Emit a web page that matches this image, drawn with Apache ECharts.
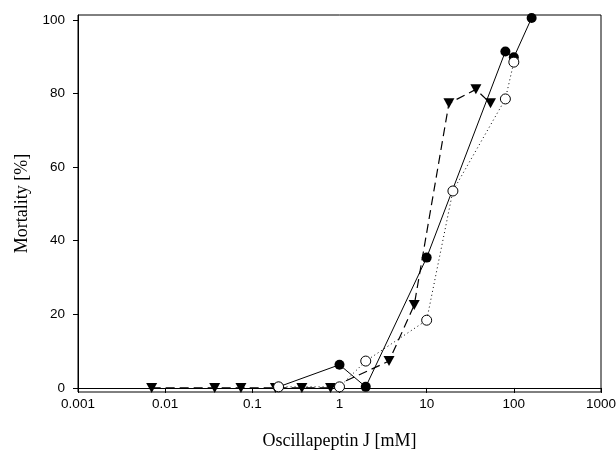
<!DOCTYPE html>
<html><head><meta charset="utf-8">
<script src="https://cdn.jsdelivr.net/npm/echarts@6/dist/echarts.min.js"></script>
<style>html,body{margin:0;padding:0;background:#fff}#c{width:616px;height:451px}</style>
</head><body><div id="c"></div>
<script>
// Filled circles (solid line)
const filledX = [0.2, 1, 2, 10, 80, 100, 160];
const filledY = [0.3, 6.3, 0.3, 35.4, 91.4, 89.8, 100.5];
// Open circles (dotted line)
const openX = [0.2, 1, 2, 10, 20, 80, 100];
const openY = [0.3, 0.3, 7.3, 18.4, 53.5, 78.5, 88.5];
// Down triangles (dashed line)
const triX = [0.007, 0.037, 0.074, 0.184, 0.37, 0.79, 3.7, 7.2, 18, 36.7, 54];
const triY = [0, 0, 0, 0, 0, 0, 7.3, 22.5, 77.3, 81.1, 77.3];
const xTicks = [0.001, 0.01, 0.1, 1, 10, 100, 1000];
const yTicks = [0, 20, 40, 60, 80, 100];

const pair = (xs, ys) => xs.map((x, i) => [x, ys[i]]);
const tri = 'path://M0,0 L10,0 L5,9 Z';

const chart = echarts.init(document.getElementById('c'), null, {renderer: 'canvas'});
chart.setOption({
  animation: false,
  backgroundColor: '#fff',
  grid: {left: 78, right: 15, top: 15, bottom: 59, show: true, borderColor: '#000', borderWidth: 1,
         containLabel: false, outerBoundsMode: 'none'},
  xAxis: {
    type: 'log', logBase: 10, min: 0.001, max: 1000, splitNumber: 6,
    name: 'Oscillapeptin J [mM]', nameLocation: 'middle', nameGap: 40,
    nameTextStyle: {fontFamily: 'Liberation Serif', fontSize: 18, color: '#000'},
    axisLine: {lineStyle: {color: '#000', width: 1}},
    axisTick: {show: true, inside: false, length: 5, lineStyle: {color: '#000', width: 1}},
    minorTick: {show: false},
    splitLine: {show: false},
    axisLabel: {fontFamily: 'Liberation Sans', fontSize: 13.5, color: '#000', margin: 5,
      formatter: v => String(+Number(v).toPrecision(6))}
  },
  yAxis: {
    type: 'value', min: -1.1, max: 101.3,
    name: 'Mortality [%]', nameLocation: 'middle', nameGap: 46, nameRotate: 90,
    nameTextStyle: {fontFamily: 'Liberation Serif', fontSize: 18, color: '#000'},
    axisLine: {show: true, lineStyle: {color: '#000', width: 1}},
    axisTick: {show: true, length: 5, lineStyle: {color: '#000', width: 1}, customValues: yTicks},
    splitLine: {show: false},
    axisLabel: {customValues: yTicks, fontFamily: 'Liberation Sans', fontSize: 13.5, color: '#000', margin: 13}
  },
  series: [
    {type: 'line', data: pair(filledX, filledY), symbol: 'circle', symbolSize: 10,
     itemStyle: {color: '#000'}, lineStyle: {color: '#000', width: 1, type: 'solid'}, z: 2},
    {type: 'line', data: pair(triX, triY), symbol: tri, symbolSize: [11, 10],
     itemStyle: {color: '#000'}, lineStyle: {color: '#000', width: 1.2, type: [9, 5]}, z: 3},
    {type: 'line', data: pair(openX, openY), symbol: 'circle', symbolSize: 10,
     itemStyle: {color: '#fff', borderColor: '#000', borderWidth: 1}, lineStyle: {color: '#000', width: 1, type: [1, 3]}, z: 4}
  ]
});
</script></body></html>
